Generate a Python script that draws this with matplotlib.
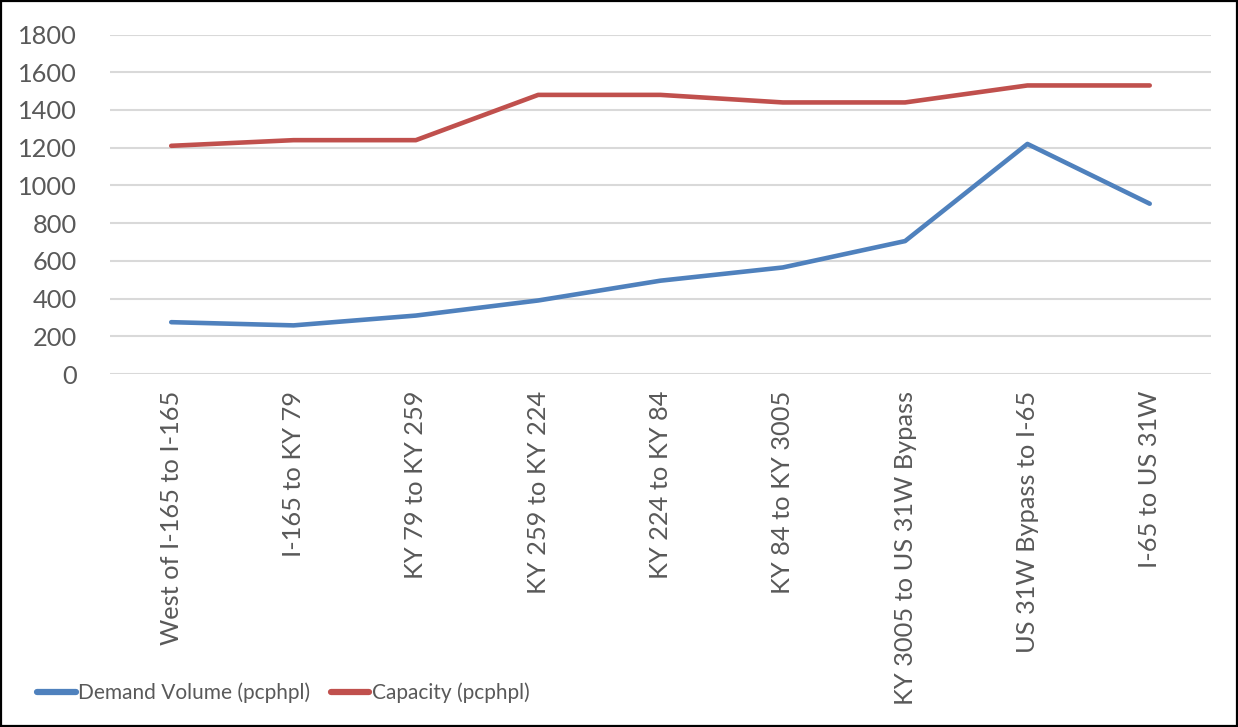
import numpy as np
import matplotlib.pyplot as plt
from matplotlib.patches import Rectangle

segments = [
    "West of I-165 to I-165",
    "I-165 to KY 79",
    "KY 79 to KY 259",
    "KY 259 to KY 224",
    "KY 224 to KY 84",
    "KY 84 to KY 3005",
    "KY 3005 to US 31W Bypass",
    "US 31W Bypass to I-65",
    "I-65 to US 31W",
]
demand = [275, 258, 310, 390, 495, 565, 705, 1220, 903]
capacity = [1210, 1240, 1240, 1480, 1480, 1440, 1440, 1530, 1530]

plt.rcParams["font.family"] = ["Lato", "DejaVu Sans"]
text_color = "#595959"

fig = plt.figure(figsize=(12.38, 7.27), dpi=100)
ax = fig.add_axes([0.0889, 0.4855, 0.8892, 0.467])

x = np.arange(len(segments))
ax.plot(x, demand, color="#4F81BD", lw=3.3, solid_capstyle="round",
        label="Demand Volume (pcphpl)")
ax.plot(x, capacity, color="#C0504D", lw=3.3, solid_capstyle="round",
        label="Capacity (pcphpl)")

ax.set_xlim(-0.5, len(segments) - 0.5)
ax.set_ylim(0, 1800)
ax.set_yticks(np.arange(0, 1801, 200))
ax.set_xticks(x)
ax.set_xticklabels(segments, rotation=90, fontsize=18.3, color=text_color)
ax.tick_params(axis="y", labelsize=18.3, labelcolor=text_color, length=0, pad=24)
ax.tick_params(axis="x", length=0, pad=12)
ax.grid(axis="y", color="#D9D9D9", lw=1.5)
ax.set_axisbelow(True)
for s in ax.spines.values():
    s.set_visible(False)

leg = fig.legend(loc="lower left", bbox_to_anchor=(0.015, 0.007), ncol=2,
                 frameon=False, fontsize=15, handlelength=1.85,
                 handletextpad=0.1, columnspacing=1.0)
for t in leg.get_texts():
    t.set_color(text_color)
for h in leg.get_lines():
    h.set_linewidth(4.5)

fig.patches.append(Rectangle((0.001, 0.001), 0.998, 0.997, transform=fig.transFigure,
                             fill=False, edgecolor="black", lw=1.6))

fig.savefig("out.png", dpi=100)
